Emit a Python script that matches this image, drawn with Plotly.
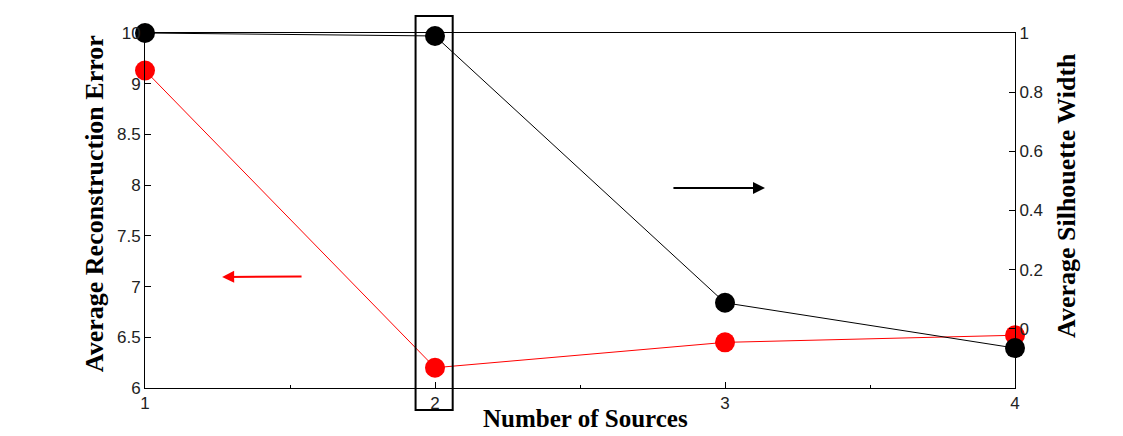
import plotly.graph_objects as go

sources = [1, 2, 3, 4]
recon_error = [9.13, 6.20, 6.45, 6.52]
silhouette = [1.0, 0.99, 0.088, -0.065]

left_tickvals = [6, 6.5, 7, 7.5, 8, 8.5, 9, 9.5]
left_ticktext = ["6", "6.5", "7", "7.5", "8", "8.5", "9", "10"]
right_tickvals = [0, 0.2, 0.4, 0.6, 0.8, 1]
x_tickvals = [1, 2, 3, 4]

x_title = "Number of Sources"
y_title = "Average Reconstruction Error"
y2_title = "Average Silhouette Width"

fig = go.Figure()
fig.add_trace(go.Scatter(
    x=sources, y=recon_error, mode="lines+markers",
    line=dict(color="#ff0000", width=1),
    marker=dict(color="#ff0000", size=20),
    yaxis="y", showlegend=False, cliponaxis=False))
fig.add_trace(go.Scatter(
    x=sources, y=silhouette, mode="lines+markers",
    line=dict(color="#000000", width=1),
    marker=dict(color="#000000", size=20),
    yaxis="y2", showlegend=False, cliponaxis=False))

tickfont = dict(family="Liberation Sans, Arial, sans-serif", size=17, color="#222")
xtitlefont = dict(family="Liberation Serif, Times New Roman, serif", size=25, color="#000")
ytitlefont = dict(family="Liberation Serif, Times New Roman, serif", size=26, color="#000")

fig.update_layout(
    width=1123, height=436,
    margin=dict(l=137, r=116, t=25, b=56),
    plot_bgcolor="white", paper_bgcolor="white",
    xaxis=dict(range=[1, 4], tickvals=x_tickvals, showgrid=False, zeroline=False,
               automargin=False,
               showline=True, linecolor="black", linewidth=1, mirror=True,
               ticks="inside", ticklen=6, tickcolor="black", tickfont=tickfont,
               minor=dict(tickvals=[1.5, 2.5, 3.5], ticks="inside", ticklen=3, tickcolor="black")),
    yaxis=dict(range=[6, 9.5], tickvals=left_tickvals, ticktext=left_ticktext,
               automargin=False,
               showgrid=False, zeroline=False, showline=True, linecolor="black",
               linewidth=1, ticks="inside", ticklen=6, tickcolor="black", tickfont=tickfont),
    yaxis2=dict(range=[-0.2, 1.0], tickvals=right_tickvals, overlaying="y", side="right",
                automargin=False,
                showgrid=False, zeroline=False, showline=True, linecolor="black",
                linewidth=1, ticks="inside", ticklen=6, tickcolor="black", tickfont=tickfont),
)

# axis titles
fig.add_annotation(text="<b>%s</b>" % x_title, xref="paper", yref="paper", x=0.506, y=-0.085,
                   xanchor="center", yanchor="middle", showarrow=False, font=xtitlefont)
fig.add_annotation(text="<b>%s</b>" % y_title, xref="paper", yref="paper", x=-0.0586, y=0.518,
                   xanchor="center", yanchor="middle", textangle=-90, showarrow=False, font=ytitlefont)
fig.add_annotation(text="<b>%s</b>" % y2_title, xref="paper", yref="paper", x=1.0598, y=0.541,
                   xanchor="center", yanchor="middle", textangle=-90, showarrow=False, font=ytitlefont)

# highlight box around 2 sources
fig.add_shape(type="rect", xref="x", yref="paper", x0=1.933, x1=2.061, y0=-0.062, y1=1.048,
              line=dict(color="black", width=2), fillcolor="rgba(0,0,0,0)", layer="above")

# arrows
fig.add_annotation(x=1.266, y=7.095, ax=1.545, ay=7.10, xref="x", yref="y", axref="x", ayref="y",
                   showarrow=True, arrowhead=2, arrowsize=1.2, arrowwidth=2, arrowcolor="#ff0000", text="")
fig.add_annotation(x=3.138, y=0.476, ax=2.817, ay=0.476, xref="x", yref="y2", axref="x", ayref="y2",
                   showarrow=True, arrowhead=2, arrowsize=1.2, arrowwidth=2, arrowcolor="#000000", text="")

fig.write_html("out.html")
